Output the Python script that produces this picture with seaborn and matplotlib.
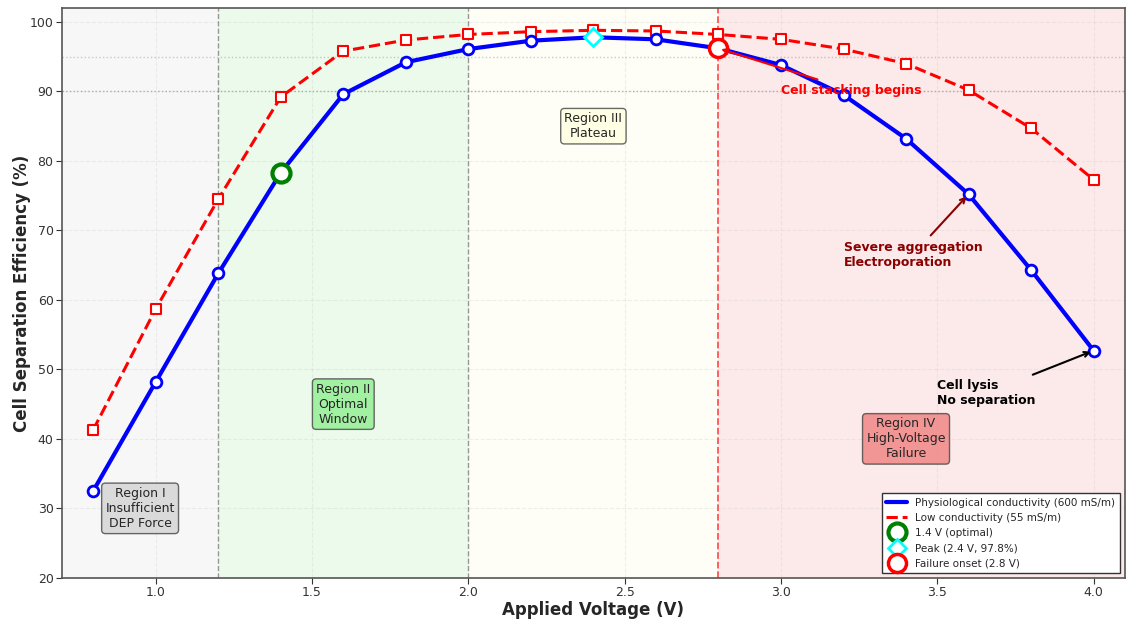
import matplotlib
matplotlib.use("Agg")
import matplotlib.pyplot as plt
import seaborn as sns
import pandas as pd

voltage = [0.8, 1.0, 1.2, 1.4, 1.6, 1.8, 2.0, 2.2, 2.4, 2.6, 2.8, 3.0, 3.2, 3.4, 3.6, 3.8, 4.0]
eff_physio = [32.5, 48.2, 63.8, 78.3, 89.6, 94.2, 96.1, 97.3, 97.8, 97.5, 96.2, 93.8, 89.5, 83.2, 75.2, 64.3, 52.7]
eff_low = [41.3, 58.7, 74.5, 89.2, 95.8, 97.4, 98.2, 98.6, 98.8, 98.7, 98.2, 97.5, 96.1, 94.0, 90.2, 84.7, 77.3]

region_edges = [0.7, 1.2, 2.0, 2.8, 4.1]
region_colors = ['#f7f7f7', '#ebfaea', '#fefef6', '#fce9ea']

df = pd.DataFrame({'voltage': voltage, 'physio': eff_physio, 'low': eff_low})

sns.set_style("white")
fig, ax = plt.subplots(figsize=(11.26, 6.2), dpi=100)
fig.subplots_adjust(left=0.055, right=0.999, bottom=0.068, top=0.987)

# region backgrounds
for i, c in enumerate(region_colors):
    ax.axvspan(region_edges[i], region_edges[i + 1], color=c, zorder=0)
ax.axvline(1.2, color='gray', linestyle='--', linewidth=1, alpha=0.8, zorder=1)
ax.axvline(2.0, color='gray', linestyle='--', linewidth=1, alpha=0.8, zorder=1)
ax.axvline(2.8, color='#ff5555', linestyle='--', linewidth=1.3, zorder=1)
ax.axhline(90, color='gray', linestyle=':', linewidth=1, alpha=0.6, zorder=1)
ax.axhline(95, color='gray', linestyle=':', linewidth=1, alpha=0.4, zorder=1)

# curves (lines carry the legend, markers added separately)
sns.lineplot(data=df, x='voltage', y='physio', ax=ax, color='blue', linewidth=3,
             label='Physiological conductivity (600 mS/m)', zorder=4)
sns.lineplot(data=df, x='voltage', y='low', ax=ax, color='red', linewidth=2.2,
             linestyle='--', label='Low conductivity (55 mS/m)', zorder=3)
sns.scatterplot(data=df, x='voltage', y='physio', ax=ax, marker='o', s=60,
                facecolor='white', edgecolor='blue', linewidth=2, legend=False, zorder=4.5)
sns.scatterplot(data=df, x='voltage', y='low', ax=ax, marker='s', s=45,
                facecolor='white', edgecolor='red', linewidth=1.5, legend=False, zorder=3.5)

# key points
ax.plot(1.4, 78.3, 'o', markersize=13, markerfacecolor='white', markeredgecolor='green',
        markeredgewidth=3, label='1.4 V (optimal)', zorder=5)
ax.plot(2.4, 97.8, 'D', markersize=9, markerfacecolor='white', markeredgecolor='cyan',
        markeredgewidth=2, label='Peak (2.4 V, 97.8%)', zorder=5)
ax.plot(2.8, 96.2, 'o', markersize=13, markerfacecolor='white', markeredgecolor='red',
        markeredgewidth=2.5, label='Failure onset (2.8 V)', zorder=5)

# region labels
box = dict(boxstyle='round,pad=0.3', edgecolor='#444444', alpha=0.8)
ax.text(0.95, 30, 'Region I\nInsufficient\nDEP Force', ha='center', va='center', fontsize=9,
        bbox={**box, 'facecolor': 'lightgray'}, zorder=6)
ax.text(1.6, 45, 'Region II\nOptimal\nWindow', ha='center', va='center', fontsize=9,
        bbox={**box, 'facecolor': 'lightgreen'}, zorder=6)
ax.text(2.4, 85, 'Region III\nPlateau', ha='center', va='center', fontsize=9,
        bbox={**box, 'facecolor': 'lightyellow'}, zorder=6)
ax.text(3.4, 40, 'Region IV\nHigh-Voltage\nFailure', ha='center', va='center', fontsize=9,
        bbox={**box, 'facecolor': 'lightcoral'}, zorder=6)

# annotations
ax.annotate('Cell stacking begins', xy=(2.8, 96.2), xytext=(3.0, 90.2), fontsize=9,
            fontweight='bold', color='red', ha='left', va='center',
            arrowprops=dict(arrowstyle='->', color='red', lw=1.5), zorder=6)
ax.annotate('Severe aggregation\nElectroporation', xy=(3.6, 75.2), xytext=(3.2, 66.5), fontsize=9,
            fontweight='bold', color='darkred', ha='left', va='center',
            arrowprops=dict(arrowstyle='->', color='darkred', lw=1.5), zorder=6)
ax.annotate('Cell lysis\nNo separation', xy=(4.0, 52.7), xytext=(3.5, 46.6), fontsize=9,
            fontweight='bold', color='black', ha='left', va='center',
            arrowprops=dict(arrowstyle='->', color='black', lw=1.5), zorder=6)

ax.set_xlim(0.7, 4.1)
ax.set_ylim(20, 102)
ax.set_xticks([1.0, 1.5, 2.0, 2.5, 3.0, 3.5, 4.0])
ax.set_yticks(range(20, 101, 10))
ax.grid(True, linestyle='--', alpha=0.3)
ax.set_axisbelow(True)
ax.tick_params(axis='both', labelsize=9, colors='#333333', length=4, pad=2, direction='out',
               left=True, bottom=True)
for sp in ax.spines.values():
    sp.set_color('#555555')
    sp.set_linewidth(1.2)

ax.set_xlabel('Applied Voltage (V)', fontsize=12, fontweight='bold', labelpad=1)
ax.set_ylabel('Cell Separation Efficiency (%)', fontsize=12, fontweight='bold', labelpad=-1)
ax.legend(loc='lower right', fontsize=7.5, frameon=True, edgecolor='#333333', fancybox=False,
          framealpha=1)

plt.savefig('out.png', dpi=100)
